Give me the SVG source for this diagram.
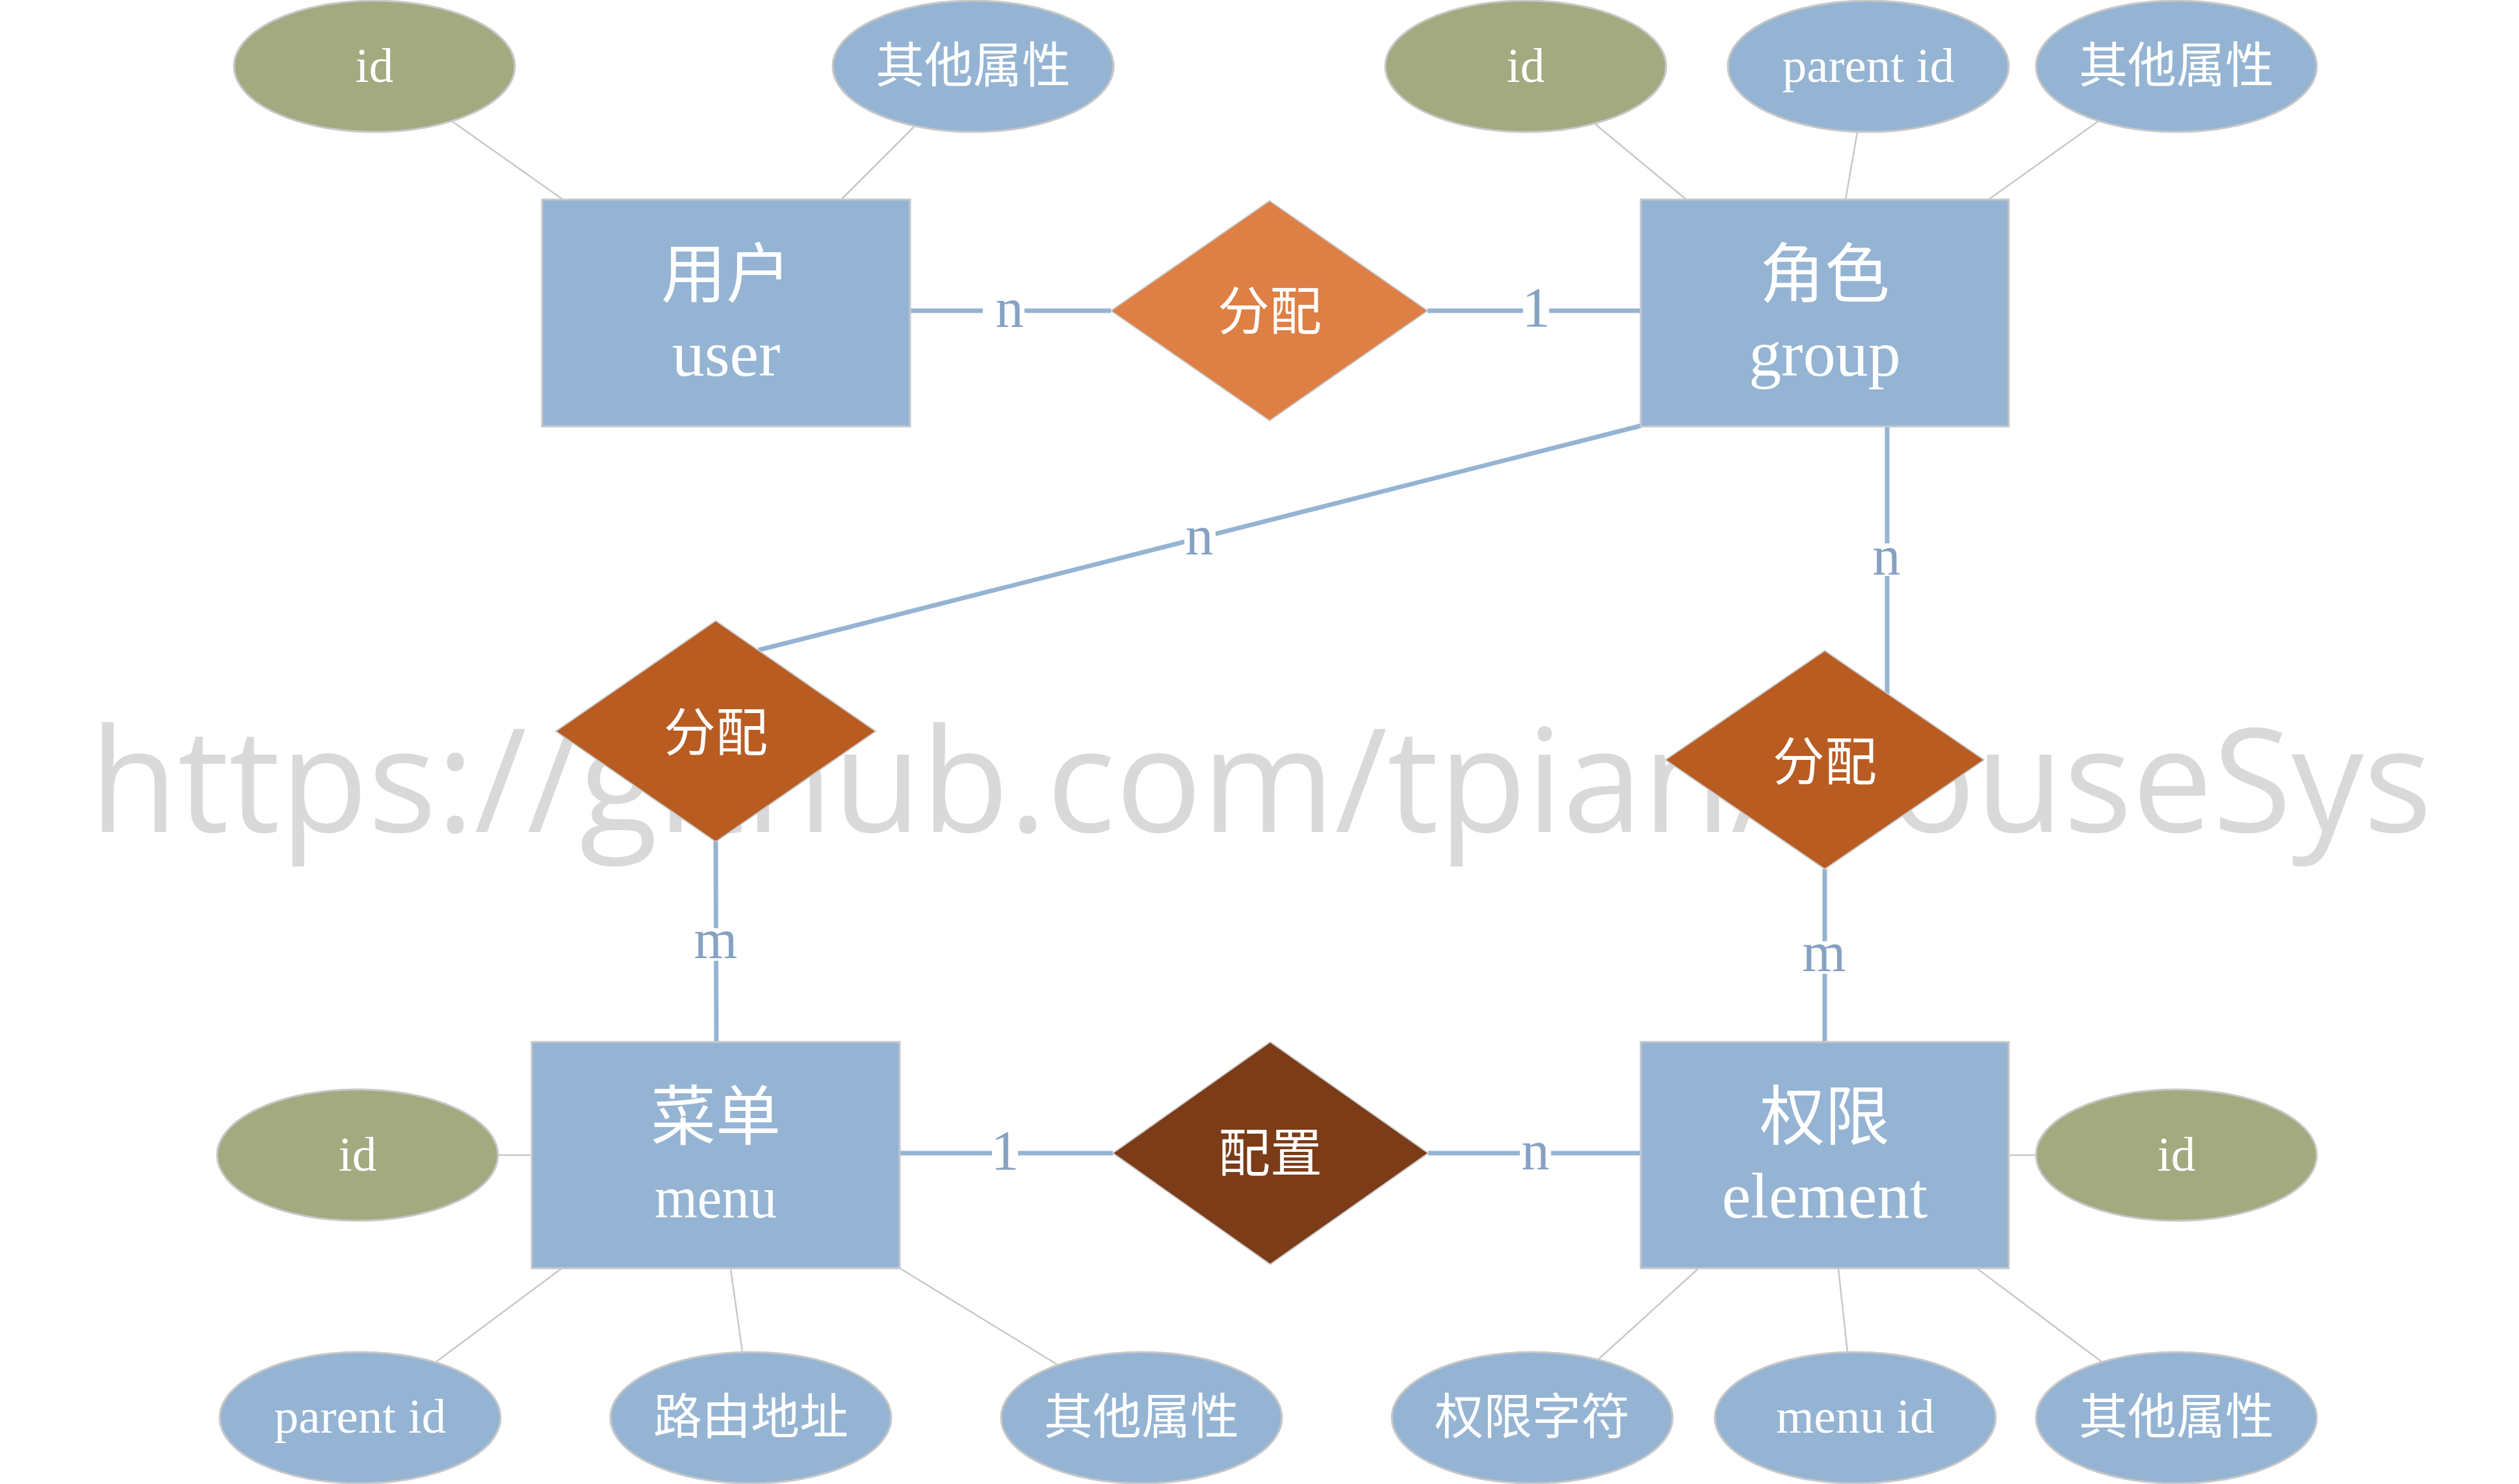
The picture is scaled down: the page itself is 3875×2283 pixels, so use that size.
<svg xmlns="http://www.w3.org/2000/svg" width="3875" height="2283" viewBox="0 0 3875 2283">
<defs>
<style>
.ent{fill:#95b4d3;stroke:#c4c8cc;stroke-width:3}
.attrB{fill:#95b4d3;stroke:#c8c8c8;stroke-width:3}
.attrG{fill:#a3aa80;stroke:#c8c8c8;stroke-width:3}
.rel1{fill:#de7f45;stroke:#c8c8c8;stroke-width:2}
.rel2{fill:#b85c22;stroke:#c8c8c8;stroke-width:2}
.rel3{fill:#7b3c17;stroke:#c8c8c8;stroke-width:2}
.alink{stroke:#c8c8c8;stroke-width:2.5;fill:none}
.rlink{stroke:#95b4d3;stroke-width:7;fill:none}
.lbl{font-family:"Liberation Serif","Noto Sans CJK SC",serif;font-size:86px;fill:#86a2c3;text-anchor:middle}
.lblbg{fill:#ffffff}
.et{font-family:"Liberation Serif","Noto Sans CJK SC",serif;font-size:100px;fill:#ffffff;text-anchor:middle}
.at{font-family:"Liberation Serif","Noto Sans CJK SC",serif;font-size:75px;fill:#ffffff;text-anchor:middle}
.dt{font-family:"Liberation Serif","Noto Sans CJK SC",serif;font-size:80px;fill:#ffffff;text-anchor:middle}
.wm{font-family:"Open Sans","Noto Sans",sans-serif;font-size:222px;fill:#d9d9d9}
</style>
</defs>
<rect width="3875" height="2283" fill="#ffffff"/>
<text class="wm" x="138" y="1280" textLength="3603" lengthAdjust="spacingAndGlyphs">https://github.com/tpian/HouseSys</text>

<g id="connectors">
  <!-- attribute links -->
  <line class="alink" x1="696" y1="187" x2="866" y2="307"/>
  <line class="alink" x1="1406" y1="195" x2="1294" y2="307"/>
  <line class="alink" x1="2454" y1="191" x2="2594" y2="307"/>
  <line class="alink" x1="2857" y1="204" x2="2839" y2="307"/>
  <line class="alink" x1="3227" y1="187" x2="3059" y2="307"/>
  <line class="alink" x1="766" y1="1777" x2="818" y2="1777"/>
  <line class="alink" x1="863" y1="1952" x2="671" y2="2095"/>
  <line class="alink" x1="1124" y1="1952" x2="1142" y2="2080"/>
  <line class="alink" x1="1384" y1="1951" x2="1626" y2="2099"/>
  <line class="alink" x1="3090" y1="1777" x2="3132" y2="1777"/>
  <line class="alink" x1="2612" y1="1952" x2="2459" y2="2091"/>
  <line class="alink" x1="2828" y1="1952" x2="2842" y2="2080"/>
  <line class="alink" x1="3042" y1="1952" x2="3233" y2="2095"/>
  <!-- relationship links -->
  <line class="rlink" x1="1400" y1="478" x2="1709" y2="478"/>
  <line class="rlink" x1="2196" y1="478" x2="2524" y2="478"/>
  <line class="rlink" x1="2524" y1="655" x2="1167" y2="1000"/>
  <line class="rlink" x1="2903" y1="656" x2="2903" y2="1068"/>
  <line class="rlink" x1="1101" y1="1294" x2="1102" y2="1603"/>
  <line class="rlink" x1="2807" y1="1337" x2="2807" y2="1603"/>
  <line class="rlink" x1="1384" y1="1774" x2="1712" y2="1774"/>
  <line class="rlink" x1="2197" y1="1774" x2="2524" y2="1774"/>
  <!-- cardinality labels -->
  <rect class="lblbg" x="1512" y="455" width="64" height="50"/>
  <text class="lbl" x="1553" y="503">n</text>
  <rect class="lblbg" x="2343" y="455" width="40" height="50"/>
  <text class="lbl" x="2363" y="502">1</text>
  <rect class="lblbg" x="1822" y="810" width="48" height="46"/>
  <text class="lbl" x="1845" y="853">n</text>
  <rect class="lblbg" x="2878" y="836" width="50" height="50"/>
  <text class="lbl" x="2902" y="884">n</text>
  <rect class="lblbg" x="1068" y="1428" width="66" height="50"/>
  <text class="lbl" x="1101" y="1474">m</text>
  <rect class="lblbg" x="2774" y="1448" width="66" height="50"/>
  <text class="lbl" x="2806" y="1494">m</text>
  <rect class="lblbg" x="1526" y="1750" width="40" height="50"/>
  <text class="lbl" x="1546" y="1799">1</text>
  <rect class="lblbg" x="2338" y="1750" width="48" height="50"/>
  <text class="lbl" x="2362" y="1799">n</text>
</g>

<g id="user">
  <rect class="ent" x="834" y="307" width="566" height="349"/>
  <text class="et" x="1117" y="457">用户</text>
  <text class="et" x="1117" y="578">user</text>
</g>
<g id="user-id">
  <ellipse class="attrG" cx="576" cy="102" rx="216" ry="101"/>
  <text class="at" x="576" y="126">id</text>
</g>
<g id="user-other">
  <ellipse class="attrB" cx="1497" cy="102" rx="216" ry="101"/>
  <text class="at" x="1497" y="127">其他属性</text>
</g>

<g id="group">
  <rect class="ent" x="2524" y="307" width="566" height="349"/>
  <text class="et" x="2807" y="457">角色</text>
  <text class="et" x="2807" y="578">group</text>
</g>
<g id="group-id">
  <ellipse class="attrG" cx="2347" cy="102" rx="216" ry="101"/>
  <text class="at" x="2347" y="126">id</text>
</g>
<g id="group-parent-id">
  <ellipse class="attrB" cx="2874" cy="102" rx="216" ry="101"/>
  <text class="at" x="2874" y="126">parent id</text>
</g>
<g id="group-other">
  <ellipse class="attrB" cx="3348" cy="102" rx="216" ry="101"/>
  <text class="at" x="3348" y="127">其他属性</text>
</g>

<g id="rel-user-group">
  <polygon class="rel1" points="1709,478 1953,309 2196,478 1953,647"/>
  <text class="dt" x="1953" y="507">分配</text>
</g>

<g id="rel-group-menu">
  <polygon class="rel2" points="855,1125 1101,955 1347,1125 1101,1295"/>
  <text class="dt" x="1101" y="1155">分配</text>
</g>

<g id="rel-group-element">
  <polygon class="rel2" points="2562,1169 2807,1001 3052,1169 2807,1337"/>
  <text class="dt" x="2807" y="1200">分配</text>
</g>

<g id="menu">
  <rect class="ent" x="818" y="1603" width="566" height="348"/>
  <text class="et" x="1101" y="1753">菜单</text>
  <text class="et" x="1101" y="1873" style="font-size:92px" textLength="188" lengthAdjust="spacingAndGlyphs">menu</text>
</g>
<g id="menu-id">
  <ellipse class="attrG" cx="550" cy="1777" rx="216" ry="101"/>
  <text class="at" x="550" y="1801">id</text>
</g>
<g id="menu-parent-id">
  <ellipse class="attrB" cx="554" cy="2181" rx="216" ry="101"/>
  <text class="at" x="554" y="2204">parent id</text>
</g>
<g id="menu-route">
  <ellipse class="attrB" cx="1155" cy="2181" rx="216" ry="101"/>
  <text class="at" x="1155" y="2206">路由地址</text>
</g>
<g id="menu-other">
  <ellipse class="attrB" cx="1756" cy="2181" rx="216" ry="101"/>
  <text class="at" x="1756" y="2206">其他属性</text>
</g>

<g id="rel-menu-element">
  <polygon class="rel3" points="1712,1774 1954,1603 2197,1774 1954,1945"/>
  <text class="dt" x="1954" y="1802">配置</text>
</g>

<g id="element">
  <rect class="ent" x="2524" y="1603" width="566" height="348"/>
  <text class="et" x="2807" y="1753">权限</text>
  <text class="et" x="2807" y="1873">element</text>
</g>
<g id="element-id">
  <ellipse class="attrG" cx="3348" cy="1777" rx="216" ry="101"/>
  <text class="at" x="3348" y="1801">id</text>
</g>
<g id="element-code">
  <ellipse class="attrB" cx="2357" cy="2181" rx="216" ry="101"/>
  <text class="at" x="2357" y="2206">权限字符</text>
</g>
<g id="element-menu-id">
  <ellipse class="attrB" cx="2854" cy="2181" rx="216" ry="101"/>
  <text class="at" x="2854" y="2204">menu id</text>
</g>
<g id="element-other">
  <ellipse class="attrB" cx="3348" cy="2181" rx="216" ry="101"/>
  <text class="at" x="3348" y="2206">其他属性</text>
</g>
</svg>
